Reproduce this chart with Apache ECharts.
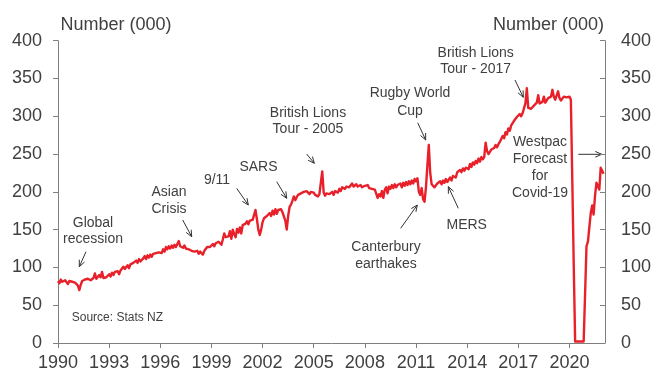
<!DOCTYPE html>
<html>
<head>
<meta charset="utf-8">
<script src="https://cdn.jsdelivr.net/npm/echarts@6/dist/echarts.min.js"></script>
<style>
html,body{margin:0;padding:0;background:#fff;}
#chart{width:654px;height:372px;}
</style>
</head>
<body>
<div id="chart"></div>
<script>
// Monthly visitor arrivals (000), starting Jan 1990
const startYear = 1990;
const arrivals1990s = [
  82, 79, 84, 81, 80, 83, 81, 78, 82, 80, 81, 79,
  80, 78, 76, 70, 77, 82, 83, 84, 82, 85, 84, 83,
  84, 86, 92, 85, 86, 90, 87, 94, 86, 88, 87, 89,
  91, 88, 93, 90, 94, 92, 95, 91, 96, 97, 101, 98,
  100, 103, 99, 104, 102, 106, 105, 109, 106, 111, 108, 110,
  112, 115, 111, 116, 113, 117, 114, 118, 116, 119, 117, 120,
  121, 119, 124, 121, 127, 124, 128, 125, 129, 126, 130, 127,
  129, 135, 128, 129, 126, 129, 125, 127, 124, 125, 122, 123,
  121, 119, 122, 118, 121, 119, 117, 122, 124, 127, 128, 127,
  129, 131, 128, 132, 130, 134, 132, 130, 137, 145, 140, 139
];
const arrivals2000s = [
  141, 148, 138, 150, 144, 140, 151, 146, 153, 145, 156, 158,
  158, 161, 157, 162, 160, 163, 165, 176, 164, 150, 143, 150,
  160, 165, 163, 168, 166, 172, 168, 175, 170, 177, 171, 176,
  174, 177, 173, 174, 162, 150, 168, 180, 183, 188, 194, 189,
  193, 196, 194, 198, 196, 200, 198, 201, 199, 197, 200, 198,
  199, 196, 197, 194, 197, 199, 227, 199, 195, 198, 196, 197,
  197, 200, 196, 201, 203, 199, 204, 201, 206, 208, 204, 207,
  209, 206, 208, 211, 207, 206, 210, 207, 205, 209, 206, 208,
  208, 206, 209, 205, 206, 204, 205, 203, 204, 192, 197, 194,
  201, 192, 203, 206, 198, 207, 204, 209, 205, 210, 206, 209
];
const arrivals2010s = [
  207, 211, 206, 212, 208, 213, 209, 214, 210, 215, 211, 217,
  214, 218, 200, 196, 205, 190, 187, 206, 235, 262, 225, 210,
  212, 206, 208, 211, 209, 214, 210, 215, 212, 217, 213, 216,
  219, 215, 221, 223, 219, 226, 224, 229, 226, 231, 228, 232,
  234, 230, 237, 233, 239, 236, 241, 238, 244, 240, 246, 243,
  246, 265, 254, 250, 253, 256, 254, 258, 262, 259, 263, 266,
  268, 274, 271, 279, 276, 284, 281, 288, 286, 294, 292, 299,
  301, 303, 300, 304, 306, 317, 337, 311, 313, 310, 312, 314,
  315, 318, 328, 317, 316, 319, 326, 318, 320, 324, 322, 326,
  335, 326, 322, 324, 333, 324, 321, 323, 326, 328, 325, 327
];
// 2020 onwards incl. Westpac forecast for Covid-19
const arrivals2020s = [
  326, 322, 215, 105, 2, 2, 2, 2, 2, 2, 2, 65,
  128, 134, 135, 172, 182, 170, 195, 212, 214, 203, 232, 228,
  224
];
const xTickYears = [1990, 1993, 1996, 1999, 2002, 2005, 2008, 2011, 2014, 2017, 2020];
const yTicks = [0, 50, 100, 150, 200, 250, 300, 350, 400];

const allValues = arrivals1990s.concat(arrivals2000s, arrivals2010s, arrivals2020s);
const seriesData = allValues.map((v, i) => [startYear + i / 12, v]);

const FONT = '"Liberation Sans", Arial, sans-serif';
const TXT = '#404040';
const AX = '#7f7f7f';

const chart = echarts.init(document.getElementById('chart'), null, {renderer: 'canvas'});

function annText(x, y, text, lh, size, align) {
  return {
    type: 'text', x: x, y: y, silent: true,
    style: {
      text: text, fill: TXT, font: (size || 14) + 'px ' + FONT,
      align: align || 'center', verticalAlign: 'middle',
      lineHeight: lh || 16.5
    }
  };
}
function arrow(x1, y1, x2, y2) {
  const ang = Math.atan2(y2 - y1, x2 - x1);
  const L = 7, a = 0.42;
  const p1 = [x2 - L * Math.cos(ang - a), y2 - L * Math.sin(ang - a)];
  const p2 = [x2 - L * Math.cos(ang + a), y2 - L * Math.sin(ang + a)];
  return [
    {type: 'line', silent: true, shape: {x1: x1, y1: y1, x2: x2, y2: y2},
     style: {stroke: '#333', lineWidth: 1}},
    {type: 'polyline', silent: true, shape: {points: [p1, [x2, y2], p2]},
     style: {stroke: '#333', lineWidth: 1, fill: null}}
  ];
}

const graphics = [
  {type: 'text', x: 60.5, y: 25, style: {text: 'Number (000)', fill: TXT, font: '18px ' + FONT, align: 'left', verticalAlign: 'middle'}},
  {type: 'text', x: 604, y: 25, style: {text: 'Number (000)', fill: TXT, font: '18px ' + FONT, align: 'right', verticalAlign: 'middle'}},
  annText(93, 231, 'Global\nrecession'),
  annText(169, 200.5, 'Asian\nCrisis', 17),
  annText(217, 180, '9/11'),
  annText(258.5, 166.7, 'SARS'),
  annText(308, 121, 'British Lions\nTour - 2005'),
  annText(410, 102, 'Rugby World\nCup', 18),
  annText(475.7, 61, 'British Lions\nTour - 2017'),
  annText(540, 168, 'Westpac\nForecast\nfor\nCovid-19', 17),
  annText(386, 255.7, 'Canterbury\nearthakes', 16.3),
  annText(466.7, 225, 'MERS'),
  annText(71.7, 318, 'Source: Stats NZ', 14, 12, 'left')
].concat(
  arrow(86, 251.7, 79.3, 266.7),
  arrow(182.7, 220, 191.7, 236.7),
  arrow(236.7, 188.3, 248.3, 205),
  arrow(276.7, 181.7, 286.7, 198.3),
  arrow(306.7, 154, 314.3, 163.3),
  arrow(417.7, 122.7, 425.7, 140),
  arrow(515, 80, 523.3, 97.3),
  arrow(578.3, 154.3, 601.7, 154.3),
  arrow(400.7, 228.3, 417.3, 205),
  arrow(458.3, 208.3, 448.3, 186.7)
);

const yAxisCommon = {
  type: 'value', min: 0, max: 400, interval: 50,
  splitLine: {show: false},
  axisLine: {show: true, lineStyle: {color: AX, width: 1}},
  axisLabel: {color: TXT, fontSize: 18, fontFamily: FONT, margin: 16}
};

chart.setOption({
  animation: false,
  backgroundColor: '#fff',
  grid: {left: 58, right: 47.5, top: 40.7, bottom: 28.7, containLabel: false},
  xAxis: {
    type: 'value', min: 1990, max: 2022.0833,
    splitLine: {show: false},
    axisLine: {show: true, onZero: false, lineStyle: {color: AX, width: 1}},
    axisTick: {show: true, length: 5, lineStyle: {color: AX}, customValues: xTickYears},
    axisLabel: {color: TXT, fontSize: 18, fontFamily: FONT, margin: 11, customValues: xTickYears,
                formatter: v => String(Math.round(v))}
  },
  yAxis: [
    Object.assign({}, yAxisCommon, {position: 'left',
      axisTick: {show: true, length: 5, inside: false, lineStyle: {color: AX}}}),
    Object.assign({}, yAxisCommon, {position: 'right',
      axisTick: {show: true, length: 5, inside: true, lineStyle: {color: AX}}})
  ],
  series: [{
    type: 'line', data: seriesData, yAxisIndex: 0,
    showSymbol: false, symbol: 'none',
    lineStyle: {color: '#e8202a', width: 2.4, join: 'round'},
    itemStyle: {color: '#e8202a'}
  }],
  graphic: graphics
});
</script>
</body>
</html>
